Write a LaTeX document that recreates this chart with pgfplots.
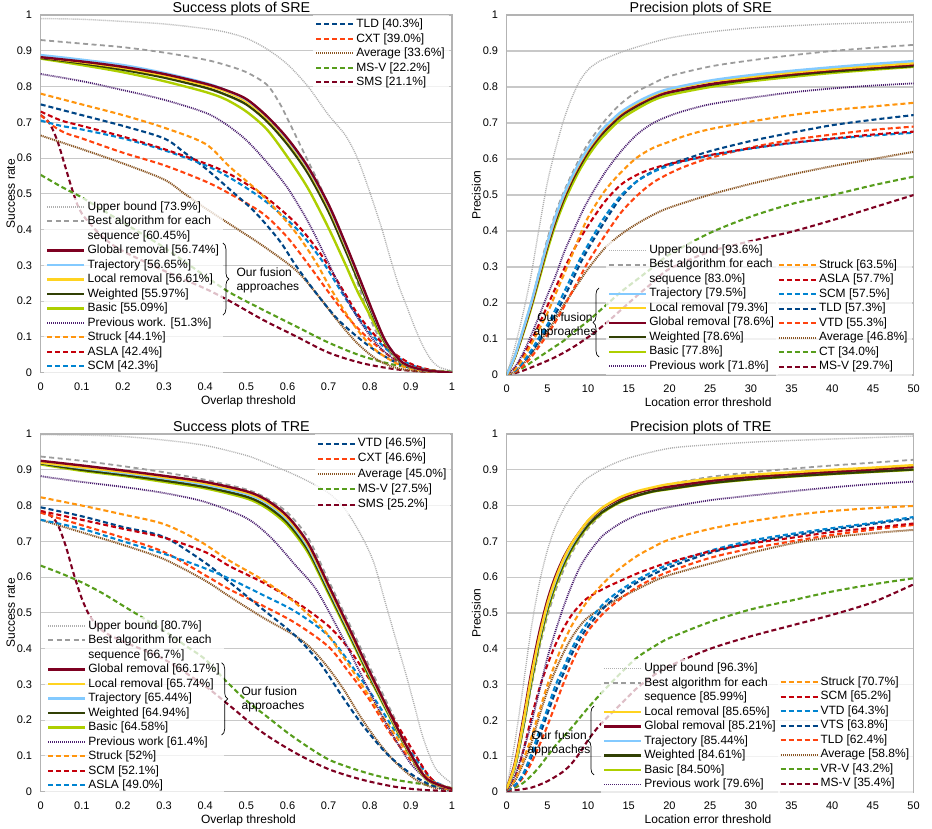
\documentclass[border=0pt]{standalone}
\usepackage{fontspec}
\setmainfont{Liberation Sans}
\usepackage{pgfplots}
\pgfplotsset{compat=1.18}
\usetikzlibrary{decorations.pathreplacing}

\definecolor{cUB}{HTML}{B0B0B0}
\definecolor{cBest}{HTML}{9C9C9C}
\definecolor{cGlob}{HTML}{7E0021}
\definecolor{cTraj}{HTML}{83CAFF}
\definecolor{cLoc}{HTML}{FFD320}
\definecolor{cWei}{HTML}{314004}
\definecolor{cBas}{HTML}{AECF00}
\definecolor{cPrev}{HTML}{4B1F6F}
\definecolor{cStr}{HTML}{FF950E}
\definecolor{cRed}{HTML}{C5000B}
\definecolor{cBlue}{HTML}{0084D1}
\definecolor{cNavy}{HTML}{004586}
\definecolor{cOrRed}{HTML}{FF420E}
\definecolor{cAvg}{HTML}{8A5522}
\definecolor{cGreen}{HTML}{579D1C}
\definecolor{cDRed}{HTML}{7E0021}
\definecolor{cGrid}{HTML}{C8C8C8}
\definecolor{cAxis}{HTML}{B3B3B3}

\tikzset{
  sUB/.style={color=cUB, line width=1.4pt, dash pattern=on 1pt off 1pt},
  sBest/.style={color=cBest, line width=1.8pt, dash pattern=on 5pt off 3.5pt},
  sGlob/.style={color=cGlob, line width=2.4pt, solid},
  sTraj/.style={color=cTraj, line width=2.4pt, solid},
  sLoc/.style={color=cLoc, line width=2.4pt, solid},
  sWei/.style={color=cWei, line width=2.4pt, solid},
  sBas/.style={color=cBas, line width=2.4pt, solid},
  sPrev/.style={color=cPrev, line width=1.8pt, dash pattern=on 1pt off 1pt},
  sAvg/.style={color=cAvg, line width=2pt, dash pattern=on 1.1pt off 0.9pt},
  sStr/.style={color=cStr, line width=2.1pt, dash pattern=on 5pt off 3pt},
  sRed/.style={color=cRed, line width=2.1pt, dash pattern=on 5pt off 3pt},
  sBlue/.style={color=cBlue, line width=2.1pt, dash pattern=on 5pt off 3pt},
  sNavy/.style={color=cNavy, line width=2.1pt, dash pattern=on 5pt off 3pt},
  sOrRed/.style={color=cOrRed, line width=2.1pt, dash pattern=on 5pt off 3pt},
  sGreen/.style={color=cGreen, line width=2.1pt, dash pattern=on 5pt off 3pt},
  sDRed/.style={color=cDRed, line width=2.1pt, dash pattern=on 5pt off 3pt},
  brc/.style={decorate, decoration={brace, amplitude=6pt}, line width=0.7pt, black},
  brtxt/.style={font=\fontsize{12}{14}\selectfont},
}

\pgfplotsset{
  panel/.style={
    scale only axis, anchor=south west,
    ymin=0, ymax=1,
    ytick={0,0.1,0.2,0.3,0.4,0.5,0.6,0.7,0.8,0.9,1},
    ymajorgrids, grid style={color=cGrid, line width=1.1pt},
    axis line style={draw=cAxis, line width=1.1pt},
    major tick length=0pt,
    tick label style={font=\fontsize{11}{13}\selectfont},
    yticklabel style={inner sep=0pt, xshift=-8.4pt},
    xticklabel style={inner sep=0pt, yshift=-10pt},
    /pgf/number format/assume math mode=true,
    label style={font=\fontsize{12}{14}\selectfont},
    xlabel style={anchor=base, yshift=-31.5pt},
    ylabel style={anchor=base},
    title style={font=\fontsize{14.3}{16}\selectfont, anchor=base, yshift=-3.5pt},
    no markers,
    every axis plot/.append style={smooth, tension=0.5},
  },
  succ/.style={panel, width=411.3pt, height=357.7pt, xmin=0, xmax=1,
    xtick={0,0.1,0.2,0.3,0.4,0.5,0.6,0.7,0.8,0.9,1},
    xlabel={Overlap threshold}, ylabel={Success rate},
    xlabel style={at={(axis description cs:0.505,0)}},
    ylabel style={at={(axis description cs:-0.063,0.5)}},
    title style={at={(0.488,1)}}},
  prec/.style={panel, width=407pt, height=359pt, xmin=0, xmax=50,
    xtick={0,5,10,15,20,25,30,35,40,45,50},
    xlabel={Location error threshold}, ylabel={Precision},
    xlabel style={at={(axis description cs:0.495,0)}},
    ylabel style={at={(axis description cs:-0.064,0.5)}},
    title style={at={(0.477,1)}}},
  legaxis/.style={scale only axis, anchor=south west, hide axis,
    xmin=0, xmax=1, ymin=0, ymax=1,
    legend cell align=left,
    legend image code/.code={\draw[##1] (0pt,0pt) -- (37pt,0pt);},
    legend style={draw=none, fill=white, fill opacity=0.75, text opacity=1,
      inner sep=2pt, anchor=north west, row sep=0pt,
      font=\fontsize{12}{14}\selectfont,
      nodes={inner sep=2pt, text height=8.5pt, text depth=2pt}}},
}

\begin{document}
\begin{tikzpicture}
\useasboundingbox (0,0) rectangle (932pt,828pt);

%% ---------------- Success plots of SRE ----------------
\begin{axis}[succ, at={(40.7pt,455.3pt)}, title={Success plots of SRE}]
\addplot[sUB] coordinates {(0,.99)(.1,.988)(.2,.982)(.3,.975)(.4,.962)(.45,.952)(.5,.935)(.55,.905)(.6,.862)(.65,.8)(.7,.72)(.74,.665)(.77,.6)(.8,.505)(.83,.4)(.85,.32)(.87,.245)(.89,.185)(.91,.125)(.93,.073)(.95,.035)(.97,.015)(1,.005)};
\addplot[sBest] coordinates {(0,.93)(.1,.92)(.2,.91)(.3,.895)(.4,.875)(.45,.86)(.5,.84)(.55,.805)(.58,.755)(.6,.71)(.64,.615)(.68,.52)(.72,.408)(.75,.32)(.785,.203)(.815,.115)(.85,.054)(.9,.017)(.95,.005)(1,0)};
\addplot[sDRed] coordinates {(0,.72)(.02,.7)(.04,.65)(.06,.575)(.08,.5)(.1,.445)(.15,.38)(.2,.34)(.3,.285)(.4,.235)(.46,.2)(.54,.148)(.62,.102)(.7,.056)(.78,.027)(.86,.01)(.93,.003)(1,0)};
\addplot[sGreen] coordinates {(0,.553)(.05,.52)(.1,.49)(.15,.455)(.2,.42)(.3,.35)(.4,.27)(.46,.224)(.54,.176)(.62,.13)(.7,.084)(.78,.047)(.86,.022)(.94,.008)(1,.003)};
\addplot[sAvg] coordinates {(0,.663)(.1,.625)(.2,.585)(.3,.54)(.35,.5)(.4,.46)(.46,.415)(.54,.355)(.62,.287)(.67,.222)(.72,.148)(.77,.082)(.82,.035)(.87,.012)(.93,.003)(1,0)};
\addplot[sOrRed] coordinates {(0,.72)(.03,.69)(.06,.67)(.1,.655)(.2,.615)(.3,.58)(.4,.535)(.46,.5)(.54,.445)(.6,.378)(.655,.296)(.7,.225)(.75,.15)(.8,.092)(.85,.045)(.9,.015)(.95,.004)(1,0)};
\addplot[sNavy] coordinates {(0,.75)(.1,.72)(.2,.69)(.3,.655)(.35,.615)(.4,.572)(.46,.512)(.52,.45)(.58,.37)(.62,.3)(.67,.222)(.72,.152)(.77,.1)(.82,.057)(.88,.02)(.94,.005)(1,0)};
\addplot[sBlue] coordinates {(0,.705)(.05,.69)(.1,.68)(.2,.655)(.3,.622)(.4,.58)(.46,.545)(.54,.485)(.62,.405)(.68,.32)(.73,.228)(.77,.157)(.81,.1)(.85,.057)(.9,.022)(.95,.006)(1,0)};
\addplot[sRed] coordinates {(0,.73)(.05,.705)(.1,.69)(.2,.66)(.3,.625)(.4,.585)(.46,.555)(.54,.497)(.62,.418)(.68,.333)(.73,.24)(.77,.165)(.81,.108)(.85,.062)(.9,.025)(.95,.007)(1,0)};
\addplot[sStr] coordinates {(0,.78)(.1,.75)(.2,.72)(.3,.685)(.4,.64)(.46,.575)(.54,.495)(.62,.392)(.67,.307)(.7,.245)(.74,.17)(.78,.105)(.82,.058)(.88,.018)(.94,.004)(1,0)};
\addplot[sPrev] coordinates {(0,.835)(.1,.815)(.2,.79)(.3,.763)(.4,.727)(.45,.695)(.5,.65)(.55,.588)(.6,.517)(.65,.422)(.69,.33)(.73,.235)(.77,.155)(.81,.09)(.85,.045)(.9,.016)(.95,.004)(1,0)};
\addplot[sBas] coordinates {(0,.878)(.1,.86)(.2,.84)(.3,.815)(.4,.785)(.45,.764)(.5,.73)(.55,.68)(.6,.603)(.65,.515)(.7,.404)(.74,.305)(.77,.228)(.81,.14)(.84,.078)(.88,.025)(.93,.008)(1,0)};
\addplot[sWei] coordinates {(0,.88)(.1,.865)(.2,.847)(.3,.825)(.4,.797)(.45,.777)(.5,.75)(.55,.703)(.6,.638)(.65,.557)(.7,.45)(.74,.345)(.78,.236)(.81,.154)(.84,.08)(.88,.026)(.93,.008)(1,0)};
\addplot[sLoc] coordinates {(0,.882)(.1,.868)(.2,.852)(.3,.831)(.4,.804)(.45,.786)(.5,.758)(.55,.712)(.6,.648)(.65,.568)(.7,.462)(.74,.357)(.78,.245)(.81,.16)(.84,.083)(.88,.027)(.93,.008)(1,0)};
\addplot[sTraj] coordinates {(0,.888)(.1,.875)(.2,.86)(.3,.838)(.4,.81)(.45,.79)(.5,.763)(.55,.716)(.6,.652)(.65,.572)(.7,.467)(.74,.361)(.78,.248)(.81,.161)(.84,.084)(.88,.028)(.93,.008)(1,0)};
\addplot[sGlob] coordinates {(0,.882)(.1,.87)(.2,.855)(.3,.835)(.4,.808)(.45,.79)(.5,.765)(.55,.717)(.6,.655)(.65,.575)(.7,.47)(.74,.364)(.78,.25)(.81,.163)(.84,.085)(.88,.028)(.93,.008)(1,0)};
\coordinate (b1a) at (axis cs:0.443,0.3626);
\coordinate (b1b) at (axis cs:0.443,0.161);
\coordinate (t1) at (axis cs:0.4675,0.258);
\end{axis}
\begin{axis}[legaxis, at={(40.7pt,455.3pt)}, width=411.3pt, height=357.7pt,
  legend style={at={(0.662,1.0)}}]
\addlegendimage{sNavy}\addlegendentry{TLD [40.3\%]}
\addlegendimage{sOrRed}\addlegendentry{CXT [39.0\%]}
\addlegendimage{sAvg}\addlegendentry{Average [33.6\%]}
\addlegendimage{sGreen}\addlegendentry{MS-V [22.2\%]}
\addlegendimage{sDRed}\addlegendentry{SMS [21.1\%]}
\end{axis}
\begin{axis}[legaxis, at={(40.7pt,455.3pt)}, width=411.3pt, height=357.7pt,
  legend style={at={(0.008,0.490)}}]
\addlegendimage{sUB}\addlegendentry{Upper bound [73.9\%]}
\addlegendimage{sBest}\addlegendentry{Best algorithm for each}
\addlegendimage{empty legend}\addlegendentry{sequence [60.45\%]}
\addlegendimage{sGlob}\addlegendentry{Global removal [56.74\%]}
\addlegendimage{sTraj}\addlegendentry{Trajectory [56.65\%]}
\addlegendimage{sLoc}\addlegendentry{Local removal [56.61\%]}
\addlegendimage{sWei}\addlegendentry{Weighted [55.97\%]}
\addlegendimage{sBas}\addlegendentry{Basic [55.09\%]}
\addlegendimage{sPrev}\addlegendentry{Previous work. [51.3\%]}
\addlegendimage{sStr}\addlegendentry{Struck [44.1\%]}
\addlegendimage{sRed}\addlegendentry{ASLA [42.4\%]}
\addlegendimage{sBlue}\addlegendentry{SCM [42.3\%]}
\end{axis}
\draw[brc] (b1a) -- (b1b);
\node[brtxt, align=left, anchor=west] at (t1) {Our fusion\\approaches};

%% ---------------- Precision plots of SRE ----------------
\begin{axis}[prec, at={(506.7pt,453pt)}, height=360pt, title={Precision plots of SRE}]
\addplot[sUB] coordinates {(0,0)(1,.078)(2,.17)(3,.278)(4,.41)(5,.535)(6,.628)(7,.708)(8,.77)(9,.818)(10,.848)(11,.866)(12,.878)(15,.904)(20,.936)(25,.953)(30,.964)(35,.97)(40,.975)(45,.978)(50,.981)};
\addplot[sBest] coordinates {(0,0)(1,.05)(2,.12)(3,.2)(4,.29)(5,.378)(6,.45)(7,.508)(8,.558)(9,.603)(10,.643)(12,.705)(14,.753)(16,.787)(18,.81)(20,.83)(25,.857)(30,.874)(35,.888)(40,.9)(45,.909)(50,.917)};
\addplot[sDRed] coordinates {(0,0)(1,.005)(2,.012)(4,.03)(6,.05)(8,.075)(10,.105)(12,.14)(14,.18)(16,.22)(18,.258)(20,.295)(25,.343)(30,.372)(35,.398)(40,.43)(45,.465)(50,.5)};
\addplot[sGreen] coordinates {(0,0)(1,.008)(2,.02)(3,.035)(4,.05)(5,.065)(6,.08)(7,.095)(8,.115)(10,.15)(12,.19)(14,.23)(16,.265)(18,.3)(20,.335)(25,.395)(30,.44)(35,.475)(40,.5)(45,.527)(50,.551)};
\addplot[sAvg] coordinates {(0,0)(1,.009)(2,.03)(3,.058)(4,.089)(5,.122)(6,.155)(7,.194)(8,.228)(9,.262)(10,.295)(12,.351)(14,.39)(16,.42)(18,.445)(20,.465)(25,.501)(30,.531)(35,.557)(40,.58)(45,.6)(50,.62)};
\addplot[sOrRed] coordinates {(0,0)(1,.009)(2,.025)(3,.049)(4,.08)(5,.112)(6,.148)(7,.188)(8,.23)(9,.272)(10,.314)(12,.385)(14,.45)(16,.498)(18,.535)(20,.56)(22,.58)(25,.603)(30,.632)(35,.653)(40,.668)(45,.681)(50,.69)};
\addplot[sNavy] coordinates {(0,0)(1,.012)(2,.035)(3,.062)(4,.095)(5,.132)(6,.17)(7,.212)(8,.26)(9,.308)(10,.35)(12,.425)(14,.492)(16,.538)(18,.566)(20,.586)(22,.6)(25,.622)(30,.65)(35,.673)(40,.694)(45,.709)(50,.722)};
\addplot[sBlue] coordinates {(0,0)(1,.012)(2,.036)(3,.068)(4,.105)(5,.14)(6,.182)(7,.228)(8,.275)(9,.322)(10,.362)(12,.438)(14,.498)(16,.538)(18,.564)(20,.582)(22,.595)(25,.61)(30,.629)(35,.644)(40,.656)(45,.665)(50,.673)};
\addplot[sRed] coordinates {(0,0)(1,.018)(2,.052)(3,.095)(4,.142)(5,.192)(6,.242)(7,.292)(8,.338)(9,.378)(10,.415)(12,.48)(14,.528)(16,.556)(18,.574)(20,.586)(25,.611)(30,.63)(35,.645)(40,.657)(45,.668)(50,.676)};
\addplot[sStr] coordinates {(0,0)(1,.015)(2,.045)(3,.085)(4,.128)(5,.172)(6,.225)(7,.278)(8,.332)(9,.388)(10,.438)(12,.51)(14,.562)(16,.604)(18,.631)(20,.648)(22,.665)(25,.683)(30,.704)(35,.722)(40,.736)(45,.746)(50,.756)};
\addplot[sPrev] coordinates {(0,0)(1,.022)(2,.06)(3,.11)(4,.165)(5,.222)(6,.275)(7,.338)(8,.39)(9,.44)(10,.485)(12,.56)(14,.62)(16,.668)(18,.7)(20,.72)(22,.735)(25,.752)(30,.77)(35,.785)(40,.796)(45,.804)(50,.81)};
\addplot[sBas] coordinates {(0,0)(1,.048)(2,.113)(3,.185)(4,.266)(5,.347)(6,.418)(7,.477)(8,.527)(9,.571)(10,.608)(11,.64)(12,.666)(14,.71)(16,.739)(18,.763)(20,.778)(25,.8)(30,.816)(35,.828)(40,.839)(45,.848)(50,.856)};
\addplot[sWei] coordinates {(0,0)(1,.05)(2,.118)(3,.192)(4,.275)(5,.357)(6,.428)(7,.488)(8,.538)(9,.581)(10,.619)(11,.65)(12,.676)(14,.719)(16,.747)(18,.77)(20,.785)(25,.806)(30,.821)(35,.833)(40,.843)(45,.851)(50,.858)};
\addplot[sGlob] coordinates {(0,0)(1,.051)(2,.12)(3,.194)(4,.278)(5,.36)(6,.432)(7,.492)(8,.542)(9,.585)(10,.622)(11,.653)(12,.68)(14,.722)(16,.75)(18,.772)(20,.786)(25,.808)(30,.824)(35,.836)(40,.847)(45,.855)(50,.862)};
\addplot[sLoc] coordinates {(0,0)(1,.052)(2,.123)(3,.198)(4,.282)(5,.365)(6,.437)(7,.497)(8,.547)(9,.59)(10,.627)(11,.658)(12,.685)(14,.727)(16,.755)(18,.777)(20,.793)(25,.815)(30,.828)(35,.84)(40,.85)(45,.858)(50,.866)};
\addplot[sTraj] coordinates {(0,0)(1,.053)(2,.125)(3,.2)(4,.285)(5,.368)(6,.44)(7,.5)(8,.55)(9,.593)(10,.63)(11,.661)(12,.688)(14,.73)(16,.758)(18,.78)(20,.795)(25,.818)(30,.833)(35,.845)(40,.855)(45,.864)(50,.872)};
\coordinate (b2a) at (axis cs:11.34,0.05);
\coordinate (b2b) at (axis cs:11.34,0.2417);
\coordinate (t2) at (axis cs:7.16,0.139);
\end{axis}
\begin{axis}[legaxis, at={(506.7pt,453pt)}, width=407pt, height=360pt,
  legend style={at={(0.2432,0.3729)}}]
\addlegendimage{sUB}\addlegendentry{Upper bound [93.6\%]}
\addlegendimage{sBest}\addlegendentry{Best algorithm for each}
\addlegendimage{empty legend}\addlegendentry{sequence [83.0\%]}
\addlegendimage{sTraj}\addlegendentry{Trajectory [79.5\%]}
\addlegendimage{sLoc}\addlegendentry{Local removal [79.3\%]}
\addlegendimage{sGlob}\addlegendentry{Global removal [78.6\%]}
\addlegendimage{sWei}\addlegendentry{Weighted [78.6\%]}
\addlegendimage{sBas}\addlegendentry{Basic [77.8\%]}
\addlegendimage{sPrev}\addlegendentry{Previous work [71.8\%]}
\end{axis}
\begin{axis}[legaxis, at={(506.7pt,453pt)}, width=407pt, height=360pt,
  legend style={at={(0.661,0.3313)}}]
\addlegendimage{sStr}\addlegendentry{Struck [63.5\%]}
\addlegendimage{sRed}\addlegendentry{ASLA [57.7\%]}
\addlegendimage{sBlue}\addlegendentry{SCM [57.5\%]}
\addlegendimage{sNavy}\addlegendentry{TLD [57.3\%]}
\addlegendimage{sOrRed}\addlegendentry{VTD [55.3\%]}
\addlegendimage{sAvg}\addlegendentry{Average [46.8\%]}
\addlegendimage{sGreen}\addlegendentry{CT [34.0\%]}
\addlegendimage{sDRed}\addlegendentry{MS-V [29.7\%]}
\end{axis}
\draw[brc] (b2a) -- (b2b);
\node[brtxt, align=center] at (t2) {Our fusion\\approaches};

%% ---------------- Success plots of TRE ----------------
\begin{axis}[succ, at={(40.7pt,36.3pt)}, title={Success plots of TRE}]
\addplot[sUB] coordinates {(0,.998)(.1,.997)(.2,.993)(.3,.983)(.4,.968)(.5,.94)(.55,.918)(.6,.895)(.65,.868)(.7,.835)(.74,.79)(.78,.715)(.81,.64)(.84,.52)(.87,.4)(.89,.32)(.91,.235)(.93,.15)(.96,.065)(1,.023)};
\addplot[sBest] coordinates {(0,.937)(.1,.925)(.2,.91)(.3,.893)(.4,.872)(.5,.845)(.55,.82)(.6,.78)(.65,.71)(.7,.59)(.75,.47)(.8,.348)(.85,.23)(.9,.113)(.94,.04)(1,.01)};
\addplot[sDRed] coordinates {(0,.78)(.02,.775)(.04,.75)(.06,.69)(.08,.61)(.1,.54)(.12,.49)(.15,.45)(.2,.42)(.3,.37)(.4,.295)(.46,.24)(.54,.165)(.62,.108)(.7,.063)(.78,.034)(.86,.014)(.93,.005)(1,.002)};
\addplot[sGreen] coordinates {(0,.632)(.05,.61)(.1,.585)(.15,.555)(.2,.52)(.25,.485)(.3,.45)(.35,.41)(.4,.37)(.45,.31)(.5,.255)(.55,.21)(.6,.165)(.65,.125)(.7,.09)(.75,.068)(.8,.05)(.85,.036)(.9,.026)(.95,.018)(1,.01)};
\addplot[sAvg] coordinates {(0,.76)(.1,.725)(.2,.69)(.3,.65)(.4,.59)(.46,.545)(.54,.487)(.62,.435)(.66,.398)(.7,.345)(.74,.28)(.78,.205)(.82,.14)(.86,.085)(.91,.035)(.95,.013)(1,.004)};
\addplot[sOrRed] coordinates {(0,.78)(.1,.745)(.2,.71)(.3,.67)(.4,.605)(.46,.565)(.54,.52)(.62,.471)(.7,.405)(.75,.333)(.8,.256)(.85,.163)(.9,.088)(.95,.032)(1,.004)};
\addplot[sNavy] coordinates {(0,.795)(.1,.77)(.2,.74)(.3,.712)(.4,.64)(.46,.585)(.54,.51)(.62,.435)(.68,.358)(.73,.272)(.78,.19)(.84,.108)(.9,.05)(.95,.018)(1,.004)};
\addplot[sBlue] coordinates {(0,.76)(.1,.735)(.2,.7)(.3,.665)(.387,.63)(.46,.595)(.54,.55)(.62,.503)(.7,.435)(.77,.33)(.82,.245)(.865,.163)(.914,.089)(.95,.035)(1,.004)};
\addplot[sRed] coordinates {(0,.785)(.1,.76)(.2,.735)(.3,.71)(.4,.67)(.46,.63)(.54,.585)(.62,.531)(.7,.463)(.75,.398)(.8,.313)(.85,.219)(.9,.124)(.94,.05)(.97,.015)(1,.004)};
\addplot[sStr] coordinates {(0,.823)(.1,.8)(.2,.775)(.3,.748)(.387,.7)(.46,.645)(.54,.592)(.62,.527)(.69,.45)(.74,.37)(.78,.3)(.83,.212)(.88,.128)(.93,.052)(.97,.015)(1,.005)};
\addplot[sPrev] coordinates {(0,.882)(.1,.866)(.2,.852)(.3,.835)(.4,.81)(.5,.765)(.56,.71)(.62,.632)(.67,.565)(.73,.44)(.77,.348)(.81,.256)(.85,.17)(.9,.078)(.95,.025)(1,.005)};
\addplot[sBas] coordinates {(0,.915)(.1,.897)(.2,.883)(.3,.866)(.4,.848)(.5,.82)(.55,.792)(.6,.745)(.65,.668)(.7,.553)(.75,.436)(.8,.318)(.85,.206)(.9,.098)(.94,.032)(1,.008)};
\addplot[sWei] coordinates {(0,.918)(.1,.9)(.2,.886)(.3,.87)(.4,.852)(.5,.825)(.55,.798)(.6,.752)(.65,.676)(.7,.56)(.75,.442)(.8,.323)(.85,.21)(.9,.1)(.94,.033)(1,.008)};
\addplot[sTraj] coordinates {(0,.92)(.1,.905)(.2,.891)(.3,.876)(.4,.858)(.5,.832)(.55,.806)(.6,.76)(.65,.684)(.7,.567)(.75,.448)(.8,.328)(.85,.213)(.9,.102)(.94,.034)(1,.008)};
\addplot[sLoc] coordinates {(0,.92)(.1,.907)(.2,.894)(.3,.879)(.4,.862)(.5,.836)(.55,.81)(.6,.765)(.65,.69)(.7,.572)(.75,.452)(.8,.331)(.85,.215)(.9,.103)(.94,.034)(1,.008)};
\addplot[sGlob] coordinates {(0,.925)(.1,.912)(.2,.898)(.3,.883)(.4,.866)(.5,.84)(.55,.815)(.6,.77)(.65,.695)(.7,.577)(.75,.457)(.8,.335)(.85,.218)(.9,.105)(.94,.035)(1,.008)};
\coordinate (b3a) at (axis cs:0.44,0.3606);
\coordinate (b3b) at (axis cs:0.44,0.1585);
\coordinate (t3) at (axis cs:0.48,0.259);
\end{axis}
\begin{axis}[legaxis, at={(40.7pt,36.3pt)}, width=411.3pt, height=357.7pt,
  legend style={at={(0.666,1.0)}, nodes={text depth=2.7pt}}]
\addlegendimage{sNavy}\addlegendentry{VTD [46.5\%]}
\addlegendimage{sOrRed}\addlegendentry{CXT [46.6\%]}
\addlegendimage{sAvg}\addlegendentry{Average [45.0\%]}
\addlegendimage{sGreen}\addlegendentry{MS-V [27.5\%]}
\addlegendimage{sDRed}\addlegendentry{SMS [25.2\%]}
\end{axis}
\begin{axis}[legaxis, at={(40.7pt,36.3pt)}, width=411.3pt, height=357.7pt,
  legend style={at={(0.0097,0.490)}}]
\addlegendimage{sUB}\addlegendentry{Upper bound [80.7\%]}
\addlegendimage{sBest}\addlegendentry{Best algorithm for each}
\addlegendimage{empty legend}\addlegendentry{sequence [66.7\%]}
\addlegendimage{sGlob}\addlegendentry{Global removal [66.17\%]}
\addlegendimage{sLoc}\addlegendentry{Local removal [65.74\%]}
\addlegendimage{sTraj}\addlegendentry{Trajectory [65.44\%]}
\addlegendimage{sWei}\addlegendentry{Weighted [64.94\%]}
\addlegendimage{sBas}\addlegendentry{Basic [64.58\%]}
\addlegendimage{sPrev}\addlegendentry{Previous work [61.4\%]}
\addlegendimage{sStr}\addlegendentry{Struck [52\%]}
\addlegendimage{sRed}\addlegendentry{SCM [52.1\%]}
\addlegendimage{sBlue}\addlegendentry{ASLA [49.0\%]}
\end{axis}
\draw[brc] (b3a) -- (b3b);
\node[brtxt, align=left, anchor=west] at (t3) {Our fusion\\approaches};

%% ---------------- Precision plots of TRE ----------------
\begin{axis}[prec, at={(506.7pt,36pt)}, width=406.8pt, height=358pt, title={Precision plots of TRE}]
\addplot[sUB] coordinates {(0,.01)(1,.138)(2,.292)(3,.455)(4,.582)(5,.675)(6,.742)(7,.79)(8,.828)(9,.858)(10,.878)(12,.905)(15,.933)(20,.96)(25,.97)(30,.977)(35,.982)(40,.986)(45,.99)(50,.994)};
\addplot[sBest] coordinates {(0,.01)(1,.065)(2,.17)(3,.29)(4,.4)(5,.49)(6,.562)(7,.62)(8,.668)(9,.705)(10,.736)(12,.782)(14,.814)(16,.835)(18,.849)(20,.86)(25,.88)(30,.893)(35,.903)(40,.912)(45,.92)(50,.928)};
\addplot[sDRed] coordinates {(0,.003)(1,.005)(2,.008)(3,.012)(4,.02)(5,.03)(6,.043)(7,.058)(8,.08)(9,.11)(10,.145)(11,.175)(12,.2)(14,.245)(16,.29)(18,.325)(20,.352)(25,.4)(30,.435)(35,.465)(40,.495)(45,.53)(50,.58)};
\addplot[sGreen] coordinates {(0,.005)(1,.012)(2,.025)(3,.045)(4,.07)(5,.1)(6,.13)(7,.155)(8,.18)(10,.235)(12,.285)(14,.332)(16,.375)(18,.405)(20,.43)(25,.475)(30,.51)(35,.535)(40,.56)(45,.58)(50,.597)};
\addplot[sAvg] coordinates {(0,.005)(1,.03)(2,.078)(3,.135)(4,.212)(5,.282)(6,.34)(7,.39)(8,.432)(9,.464)(10,.488)(12,.518)(14,.543)(16,.566)(18,.588)(20,.606)(25,.638)(30,.668)(35,.694)(40,.712)(45,.723)(50,.732)};
\addplot[sOrRed] coordinates {(0,.005)(1,.016)(2,.04)(3,.08)(4,.13)(5,.185)(6,.245)(7,.305)(8,.36)(9,.408)(10,.45)(12,.502)(14,.54)(16,.572)(18,.596)(20,.616)(25,.654)(30,.68)(35,.7)(40,.718)(45,.733)(50,.746)};
\addplot[sNavy] coordinates {(0,.005)(1,.018)(2,.046)(3,.096)(4,.155)(5,.218)(6,.28)(7,.332)(8,.385)(9,.428)(10,.462)(12,.516)(14,.555)(16,.585)(18,.608)(20,.628)(25,.668)(30,.696)(35,.716)(40,.733)(45,.749)(50,.764)};
\addplot[sBlue] coordinates {(0,.005)(1,.018)(2,.05)(3,.105)(4,.17)(5,.232)(6,.298)(7,.348)(8,.4)(9,.442)(10,.475)(12,.528)(14,.564)(16,.592)(18,.616)(20,.636)(25,.674)(30,.702)(35,.721)(40,.737)(45,.752)(50,.768)};
\addplot[sRed] coordinates {(0,.005)(1,.04)(2,.112)(3,.205)(4,.288)(5,.355)(6,.412)(7,.458)(8,.495)(9,.522)(10,.543)(12,.569)(14,.59)(16,.61)(18,.627)(20,.642)(25,.672)(30,.694)(35,.71)(40,.726)(45,.738)(50,.75)};
\addplot[sStr] coordinates {(0,.005)(1,.035)(2,.088)(3,.15)(4,.225)(5,.298)(6,.362)(7,.418)(8,.465)(9,.502)(10,.535)(12,.586)(14,.626)(16,.659)(18,.684)(20,.705)(25,.735)(30,.756)(35,.773)(40,.785)(45,.793)(50,.799)};
\addplot[sPrev] coordinates {(0,.005)(1,.045)(2,.112)(3,.19)(4,.282)(5,.375)(6,.45)(7,.518)(8,.578)(9,.628)(10,.665)(11,.695)(12,.72)(14,.751)(16,.773)(18,.786)(20,.796)(25,.815)(30,.828)(35,.84)(40,.851)(45,.86)(50,.867)};
\addplot[sBas] coordinates {(0,.01)(1,.068)(2,.175)(3,.302)(4,.413)(5,.505)(6,.575)(7,.632)(8,.677)(9,.713)(10,.743)(11,.765)(12,.784)(14,.81)(16,.827)(18,.839)(20,.846)(25,.862)(30,.873)(35,.881)(40,.888)(45,.894)(50,.9)};
\addplot[sWei] coordinates {(0,.01)(1,.07)(2,.18)(3,.308)(4,.42)(5,.512)(6,.582)(7,.638)(8,.682)(9,.717)(10,.746)(11,.768)(12,.786)(14,.812)(16,.828)(18,.84)(20,.847)(25,.863)(30,.874)(35,.882)(40,.889)(45,.895)(50,.901)};
\addplot[sTraj] coordinates {(0,.01)(1,.072)(2,.186)(3,.316)(4,.428)(5,.52)(6,.59)(7,.646)(8,.69)(9,.725)(10,.755)(11,.777)(12,.795)(14,.821)(16,.837)(18,.848)(20,.856)(25,.872)(30,.882)(35,.89)(40,.897)(45,.903)(50,.91)};
\addplot[sGlob] coordinates {(0,.01)(1,.08)(2,.2)(3,.332)(4,.445)(5,.535)(6,.603)(7,.655)(8,.695)(9,.728)(10,.757)(11,.778)(12,.796)(14,.82)(16,.836)(18,.847)(20,.853)(25,.869)(30,.88)(35,.888)(40,.895)(45,.901)(50,.908)};
\addplot[sLoc] coordinates {(0,.01)(1,.075)(2,.19)(3,.32)(4,.432)(5,.525)(6,.595)(7,.651)(8,.694)(9,.728)(10,.758)(11,.78)(12,.798)(14,.824)(16,.84)(18,.851)(20,.86)(25,.875)(30,.886)(35,.893)(40,.9)(45,.906)(50,.913)};
\coordinate (b4a) at (axis cs:10.73,0.0475);
\coordinate (b4b) at (axis cs:10.73,0.240);
\coordinate (t4) at (axis cs:6.43,0.137);
\end{axis}
\begin{axis}[legaxis, at={(506.7pt,36pt)}, width=406.8pt, height=358pt,
  legend style={at={(0.2311,0.3714)}}]
\addlegendimage{sUB}\addlegendentry{Upper bound [96.3\%]}
\addlegendimage{sBest}\addlegendentry{Best algorithm for each}
\addlegendimage{empty legend}\addlegendentry{sequence [85.99\%]}
\addlegendimage{sLoc}\addlegendentry{Local removal [85.65\%]}
\addlegendimage{sGlob}\addlegendentry{Global removal [85.21\%]}
\addlegendimage{sTraj}\addlegendentry{Trajectory [85.44\%]}
\addlegendimage{sWei}\addlegendentry{Weighted [84.61\%]}
\addlegendimage{sBas}\addlegendentry{Basic [84.50\%]}
\addlegendimage{sPrev}\addlegendentry{Previous work [79.6\%]}
\end{axis}
\begin{axis}[legaxis, at={(506.7pt,36pt)}, width=406.8pt, height=358pt,
  legend style={at={(0.6652,0.3331)}}]
\addlegendimage{sStr}\addlegendentry{Struck [70.7\%]}
\addlegendimage{sRed}\addlegendentry{SCM [65.2\%]}
\addlegendimage{sBlue}\addlegendentry{VTD [64.3\%]}
\addlegendimage{sNavy}\addlegendentry{VTS [63.8\%]}
\addlegendimage{sOrRed}\addlegendentry{TLD [62.4\%]}
\addlegendimage{sAvg}\addlegendentry{Average [58.8\%]}
\addlegendimage{sGreen}\addlegendentry{VR-V [43.2\%]}
\addlegendimage{sDRed}\addlegendentry{MS-V [35.4\%]}
\end{axis}
\draw[brc] (b4a) -- (b4b);
\node[brtxt, align=center] at (t4) {Our fusion\\approaches};

\end{tikzpicture}
\end{document}
